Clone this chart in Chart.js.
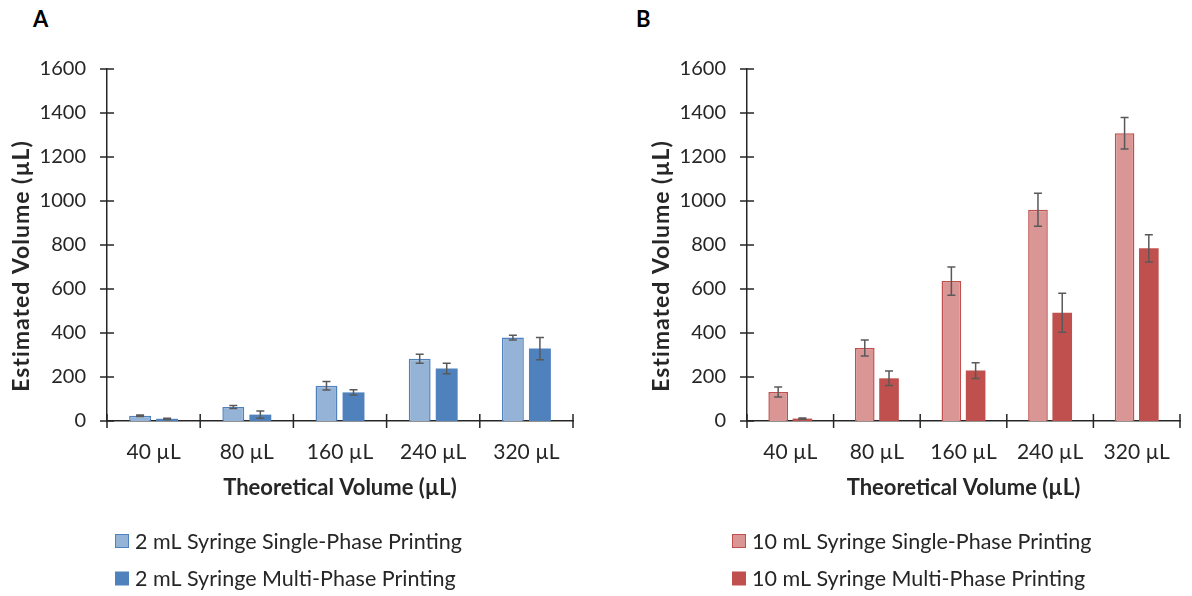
<!DOCTYPE html>
<html>
<head>
<meta charset="utf-8">
<script src="https://cdn.jsdelivr.net/npm/chart.js@4.4.1/dist/chart.umd.min.js"></script>
<style>
  html, body { margin: 0; padding: 0; background: #fff; }
  body { width: 1192px; height: 596px; position: relative; overflow: hidden; }
  .panel { position: absolute; top: 0; height: 596px; }
  #panelA { left: 0; width: 596px; }
  #panelB { left: 640px; width: 552px; }
  .tag { position: absolute; top: 5px; font: bold 22px Lato, sans-serif; color: #000; }
</style>
</head>
<body>
<div class="tag" style="left:33px">A</div>
<div class="tag" style="left:636px">B</div>
<div class="panel" id="panelA"><canvas id="chartA"></canvas></div>
<div class="panel" id="panelB"><canvas id="chartB"></canvas></div>
<script>
// data (µL)
const volumes = ['40 µL', '80 µL', '160 µL', '240 µL', '320 µL'];

const aSingle    = [24, 64, 160, 283, 379];
const aSingleErr = [3, 7, 19, 20, 11];
const aMulti     = [10, 29, 130, 239, 329];
const aMultiErr  = [3, 16, 12, 24, 51];

const bSingle    = [132, 332, 636, 960, 1308];
const bSingleErr = [23, 36, 64, 75, 72];
const bMulti     = [11, 194, 229, 492, 785];
const bMultiErr  = [3, 33, 36, 89, 62];

const yTicksMax = 1600;
const yStep = 200;
const yAxisTitle = 'Estimated Volume (µL)';
const xAxisTitle = 'Theoretical Volume (µL)';

const ink = '#262626';
const font = 'Lato, sans-serif';

// tick marks that cross the axis lines
const crossTicks = {
  id: 'crossTicks',
  afterDraw(chart) {
    const { ctx, chartArea: a, scales: { x, y } } = chart;
    ctx.save();
    ctx.strokeStyle = ink;
    ctx.lineWidth = 1.5;
    ctx.beginPath();
    y.ticks.forEach((t, i) => {
      const py = y.getPixelForTick(i);
      ctx.moveTo(a.left - 7, py);
      ctx.lineTo(a.left + 7, py);
    });
    const half = (x.getPixelForValue(1) - x.getPixelForValue(0)) / 2;
    for (let i = 0; i <= x.ticks.length; i++) {
      const px = x.getPixelForValue(i) - half;
      ctx.moveTo(px, a.bottom - 7);
      ctx.lineTo(px, a.bottom + 7);
    }
    ctx.stroke();
    ctx.restore();
  }
};

// error bars from dataset.errors
const errorBars = {
  id: 'errorBars',
  afterDatasetsDraw(chart) {
    const { ctx, scales: { y } } = chart;
    ctx.save();
    ctx.strokeStyle = '#595959';
    ctx.lineWidth = 1.5;
    chart.data.datasets.forEach((ds, i) => {
      chart.getDatasetMeta(i).data.forEach((bar, j) => {
        const v = ds.data[j], e = ds.errors[j];
        const top = y.getPixelForValue(v + e);
        const bot = y.getPixelForValue(Math.max(0, v - e));
        ctx.beginPath();
        ctx.moveTo(bar.x, top); ctx.lineTo(bar.x, bot);
        ctx.moveTo(bar.x - 4, top); ctx.lineTo(bar.x + 4, top);
        ctx.moveTo(bar.x - 4, bot); ctx.lineTo(bar.x + 4, bot);
        ctx.stroke();
      });
    });
    ctx.restore();
  }
};

// rotated y title and stacked legend under the x title
const extras = {
  id: 'extras',
  afterDraw(chart, args, opts) {
    const { ctx, chartArea: a } = chart;
    ctx.save();
    ctx.fillStyle = ink;
    ctx.font = 'bold 23px ' + font;
    ctx.letterSpacing = '1px';
    ctx.textAlign = 'center';
    ctx.textBaseline = 'middle';
    ctx.translate(22, (a.top + a.bottom) / 2 + 21);
    ctx.rotate(-Math.PI / 2);
    ctx.fillText(yAxisTitle, 0, 0);
    ctx.restore();

    ctx.save();
    ctx.font = '21.5px ' + font;
    ctx.textBaseline = 'middle';
    chart.data.datasets.forEach((ds, i) => {
      const cy = chart.height - 55 + i * 37.5;
      const bx = a.left + opts.legendShift;
      ctx.fillStyle = ds.backgroundColor;
      ctx.fillRect(bx, cy - 7, 14, 14);
      if (ds.borderWidth) {
        ctx.strokeStyle = ds.borderColor;
        ctx.lineWidth = 1;
        ctx.strokeRect(bx + 0.5, cy - 6.5, 13, 13);
      }
      ctx.fillStyle = ink;
      ctx.fillText(ds.label, bx + 20, cy + 1);
    });
    ctx.restore();
  }
};

function makeChart(id, rightPad, catPct, legendShift, sets) {
  return new Chart(document.getElementById(id), {
    type: 'bar',
    data: {
      labels: volumes,
      datasets: sets.map(s => ({
        label: s.label,
        data: s.data,
        errors: s.errors,
        backgroundColor: s.fill,
        borderColor: s.line,
        borderWidth: s.bordered ? 1.5 : 0,
        categoryPercentage: catPct,
        barPercentage: 0.81
      }))
    },
    options: {
      responsive: true,
      maintainAspectRatio: false,
      animation: false,
      layout: { padding: { top: 69, left: 0, right: rightPad, bottom: 95 } },
      plugins: {
        legend: { display: false },
        tooltip: { enabled: false },
        extras: { legendShift }
      },
      scales: {
        x: {
          grid: { display: false, drawTicks: false, tickLength: 0 },
          border: { display: true, color: ink, width: 1.5 },
          ticks: { color: ink, font: { family: font, size: 21 }, padding: 19 },
          title: {
            display: true, text: xAxisTitle, color: ink,
            font: { family: font, size: 22, weight: 'bold' },
            padding: { top: 0, bottom: 0 }
          },
          afterFit(scale) { scale.height = 80; }
        },
        y: {
          min: 0, max: yTicksMax,
          grid: { display: false, drawTicks: false, tickLength: 0 },
          border: { display: true, color: ink, width: 1.5 },
          ticks: {
            stepSize: yStep, color: ink, font: { family: font, size: 20 }, padding: 21,
            callback: v => String(v)
          },
          afterFit(scale) { scale.width = 107; }
        }
      }
    },
    plugins: [errorBars, crossTicks, extras]
  });
}

makeChart('chartA', 23, 0.58, 8, [
  { label: '2 mL Syringe Single-Phase Printing', data: aSingle, errors: aSingleErr, fill: '#95B3D7', line: '#4F81BD', bordered: true },
  { label: '2 mL Syringe Multi-Phase Printing', data: aMulti, errors: aMultiErr, fill: '#4F81BD', line: '#4F81BD', bordered: false }
]);

makeChart('chartB', 12, 0.56, -15, [
  { label: '10 mL Syringe Single-Phase Printing', data: bSingle, errors: bSingleErr, fill: '#D99694', line: '#C0504D', bordered: true },
  { label: '10 mL Syringe Multi-Phase Printing', data: bMulti, errors: bMultiErr, fill: '#C0504D', line: '#C0504D', bordered: false }
]);
</script>
</body>
</html>
